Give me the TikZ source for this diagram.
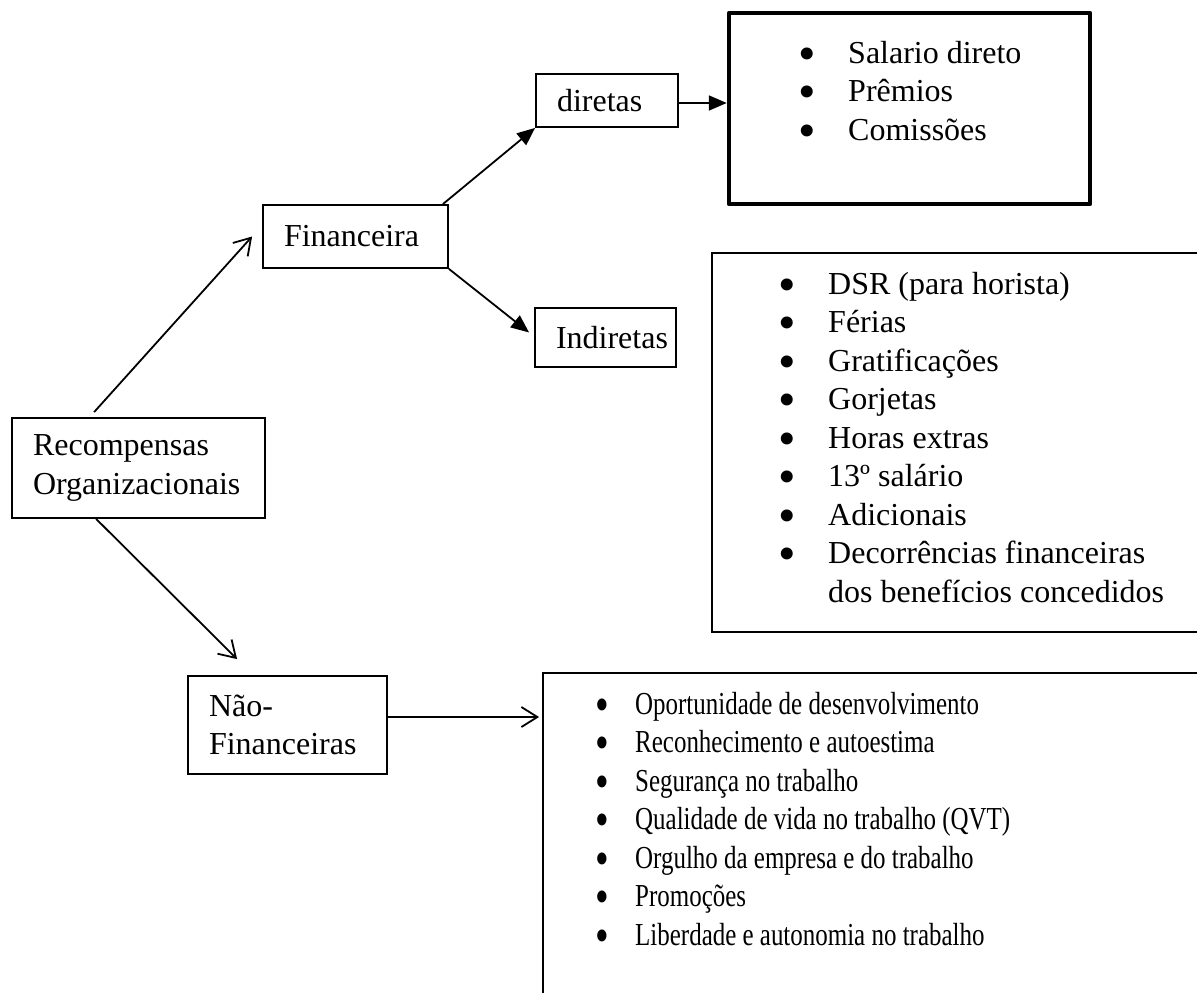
\documentclass[tikz,border=0pt]{standalone}
\usepackage{fontspec}
\setmainfont{Liberation Serif}
\newfontfamily\narrowfont[FakeStretch=0.78]{Liberation Serif}
\usetikzlibrary{arrows.meta}

% bullet followed by the item text
\newcommand{\bigbullet}{\raisebox{-7pt}{\fontsize{50}{50}\selectfont\textbullet}}
\newcommand{\bitem}[2][41pt]{\strut\makebox[#1][l]{\makebox[0pt]{\bigbullet}}#2}

\begin{document}
\begin{tikzpicture}[x=1pt,y=-1pt]
    \tikzstyle{box}=[draw=black,line width=1.8pt,rectangle,inner sep=0pt]
    \tikzstyle{label}=[box,align=left,inner xsep=21pt,font=\fontsize{32}{38.5}\selectfont]
    \tikzstyle{list}=[anchor=north west,inner sep=0pt,align=left,font=\fontsize{32}{38.5}\selectfont]
    \tikzstyle{edge}=[draw=black,line width=1.8pt]
    \tikzstyle{solid tip}=[-{Triangle[length=18pt,width=15pt]}]
    \tikzstyle{open tip}=[-{Straight Barb[length=16pt,width=20pt]}]

    \def\strutht{26.95}

    \useasboundingbox (0,0) rectangle (1197,993);
    \clip (0,0) rectangle (1197,993);

    % labelled boxes
    \node[label,text width=211pt,minimum height=100pt] (rec) at (138.5,468) {Recompensas\\Organizacionais};
    \node[label,text width=143pt,minimum height=63pt]  (fin) at (355.5,236.5) {Financeira};
    \node[label,text width=100pt,minimum height=53pt]  (dir) at (607,100.5) {diretas};
    \node[label,text width=99pt,minimum height=59pt]   (ind) at (605.5,337.5) {Indiretas};
    \node[label,text width=157pt,minimum height=98pt]  (nao) at (287.5,725) {Não-\\Financeiras};

    % list boxes
    \node[box,line width=4.5pt,line join=round,minimum width=361pt,minimum height=191pt] (dirbox) at (909.5,108.5) {};
    \node[box,minimum width=518pt,minimum height=379pt] (indbox) at (971,442.5) {};
    \node[box,minimum width=687pt,minimum height=357pt] (nfbox)  at (886.5,851.5) {};

    \node[list] (dirlist) at (807,63-\strutht) {%
        \bitem{Salario direto}\\
        \bitem{Prêmios}\\
        \bitem{Comissões}};
    \node[list] (indlist) at (787,294-\strutht) {%
        \bitem{DSR (para horista)}\\
        \bitem{Férias}\\
        \bitem{Gratificações}\\
        \bitem{Gorjetas}\\
        \bitem{Horas extras}\\
        \bitem{13º salário}\\
        \bitem{Adicionais}\\
        \bitem{Decorrências financeiras}\\
        \hspace*{41pt}dos benefícios concedidos};
    \node[list,font=\narrowfont\fontsize{32}{38.5}\selectfont] (nflist) at (602,714-\strutht) {%
        \bitem[33pt]{Oportunidade de desenvolvimento}\\
        \bitem[33pt]{Reconhecimento e autoestima}\\
        \bitem[33pt]{Segurança no trabalho}\\
        \bitem[33pt]{Qualidade de vida no trabalho (QVT)}\\
        \bitem[33pt]{Orgulho da empresa e do trabalho}\\
        \bitem[33pt]{Promoções}\\
        \bitem[33pt]{Liberdade e autonomia no trabalho}};

    % connectors
    \path[edge,open tip]  ([xshift=83pt,yshift=5pt]rec.north west) -- ([xshift=-10pt]fin.west);
    \path[edge,open tip]  ([xshift=85pt]rec.south west) -- ([xshift=50pt,yshift=16pt]nao.north west);
    \path[edge,solid tip] ([xshift=-6pt]fin.north east) -- (dir.south west);
    \path[edge,solid tip] (fin.south east) -- ([xshift=-5pt,yshift=5pt]ind.west);
    \path[edge,solid tip] ([yshift=-2.5pt]dir.east) -- ([yshift=-2.5pt]dir.east -| dirbox.west);
    \path[edge,open tip]  ([yshift=8pt]nao.east) -- ([yshift=8pt,xshift=-3pt]nao.east -| nfbox.west);
\end{tikzpicture}
\end{document}
